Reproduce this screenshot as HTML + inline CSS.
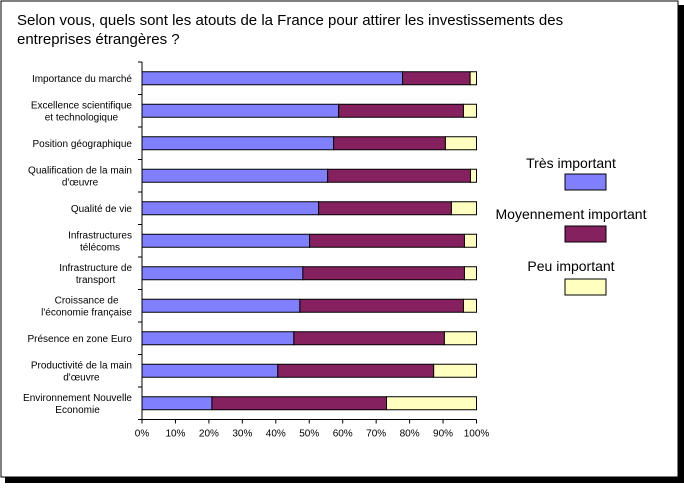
<!DOCTYPE html>
<html><head><meta charset="utf-8"><style>
body{margin:0;background:#fff;width:684px;height:483px;overflow:hidden;font-family:"Liberation Sans",sans-serif}
</style></head><body>
<svg width="684" height="483" xmlns="http://www.w3.org/2000/svg">
<rect x="5" y="5" width="679" height="478" fill="#000"/>
<rect x="1" y="1" width="677" height="476" fill="#fff" stroke="#000" stroke-width="1"/>
<text x="17" y="25" font-size="15">Selon vous, quels sont les atouts de la France pour attirer les investissements des</text>
<text x="17" y="44" font-size="15">entreprises étrangères ?</text>
<g id="plot"></g>
<g font-size="14" text-anchor="middle">
<text x="571" y="168">Très important</text>
<rect x="565" y="174" width="41" height="16" fill="#8080ff" stroke="#000"/>
<text x="571" y="219">Moyennement important</text>
<rect x="565" y="226" width="41" height="16" fill="#86215f" stroke="#000"/>
<text x="571" y="271">Peu important</text>
<rect x="565" y="279" width="41" height="16" fill="#ffffc0" stroke="#000"/>
</g>
</svg>
<script>
const categories=[["Importance du marché"],["Excellence scientifique","et technologique"],["Position géographique"],["Qualification de la main","d'œuvre"],["Qualité de vie"],["Infrastructures","télécoms"],["Infrastructure de","transport"],["Croissance de","l'économie française"],["Présence en zone Euro"],["Productivité de la main","d'œuvre"],["Environnement Nouvelle","Economie"]];
const tres=[77.9,58.8,57.3,55.5,52.8,50.1,48.1,47.2,45.4,40.6,20.9];
const moyen=[20.2,37.3,33.4,42.7,39.7,46.3,48.3,48.9,45.0,46.6,52.2];
const peu=[1.9,3.9,9.3,1.8,7.5,3.6,3.6,3.9,9.6,12.8,26.9];
const ticks=["0%","10%","20%","30%","40%","50%","60%","70%","80%","90%","100%"];
const NS="http://www.w3.org/2000/svg";
const g=document.getElementById('plot');
const x0=142,x1=476.5,top0=62,pitch=32.5,bh=13;
const xs=v=>x0+(x1-x0)*v/100;
const yc=i=>top0+pitch*(i+0.5);
function mk(t,a){const e=document.createElementNS(NS,t);for(const k in a)e.setAttribute(k,a[k]);g.appendChild(e);return e;}
const ax=mk('line',{x1:x0,x2:x0,y1:top0,y2:top0+pitch*categories.length,stroke:'#000'});


const bx=mk('line',{x1:x0,x2:x1,y1:top0+pitch*categories.length,y2:top0+pitch*categories.length,stroke:'#000'});


for(let i=0;i<=categories.length;i++){const t=mk('line',{x1:x0-4,x2:x0,y1:top0+pitch*i,y2:top0+pitch*i,stroke:'#000'});

}
ticks.forEach((s,j)=>{const v=j*10;const yb=top0+pitch*categories.length;
const t=mk('line',{x1:xs(v),x2:xs(v),y1:yb,y2:yb+4,stroke:'#000'});


const l=mk('text',{x:xs(v),y:yb+17,'font-size':10,'text-anchor':'middle'});l.textContent=s;

});
const cols=['#8080ff','#86215f','#ffffc0'];
categories.forEach((c,i)=>{const y=yc(i);
const lbl=mk('text',{'font-size':10,'text-anchor':'middle'});


const spans=c.map((line,k)=>{const ts=document.createElementNS(NS,'tspan');ts.setAttribute('y',y+3.5+(k-(c.length-1)/2)*12);ts.textContent=line;lbl.appendChild(ts);return ts;});
let w=0;spans.forEach(ts=>{w=Math.max(w,ts.getComputedTextLength());});
spans.forEach(ts=>ts.setAttribute('x',132-w/2));
let acc=0;[tres[i],moyen[i],peu[i]].forEach((v,s)=>{
const r=mk('rect',{x:xs(acc),y:y-bh/2,width:xs(acc+v)-xs(acc),height:bh,fill:cols[s],stroke:'#000','stroke-width':1});


acc+=v;});
});
</script>
</body></html>
